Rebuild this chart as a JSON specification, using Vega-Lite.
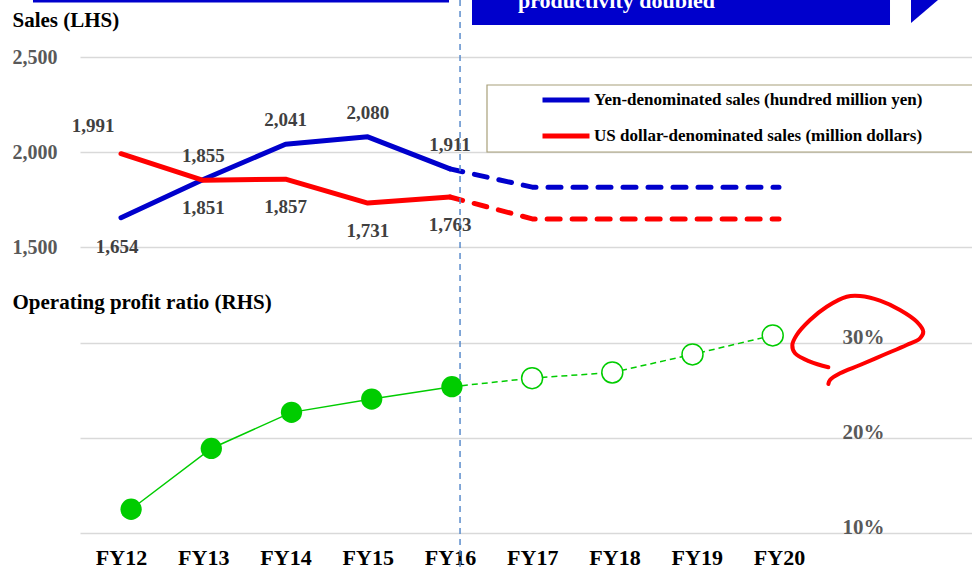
{
  "$schema": "https://vega.github.io/schema/vega-lite/v6.json",
  "width": 892,
  "height": 568,
  "autosize": {"type": "none"},
  "padding": {"left": 80, "top": 0, "right": 0, "bottom": 0},
  "background": "#ffffff",
  "config": {"view": {"stroke": null}, "font": "Liberation Serif"},
  "datasets": {
    "sales": [
      {"year": 12, "series": "Yen-denominated sales (hundred million yen)", "sales": 1654},
      {"year": 13, "series": "Yen-denominated sales (hundred million yen)", "sales": 1855},
      {"year": 14, "series": "Yen-denominated sales (hundred million yen)", "sales": 2041},
      {"year": 15, "series": "Yen-denominated sales (hundred million yen)", "sales": 2080},
      {"year": 16, "series": "Yen-denominated sales (hundred million yen)", "sales": 1911},
      {"year": 17, "series": "Yen-denominated sales (hundred million yen)", "sales": 1815},
      {"year": 18, "series": "Yen-denominated sales (hundred million yen)", "sales": 1815},
      {"year": 19, "series": "Yen-denominated sales (hundred million yen)", "sales": 1815},
      {"year": 20, "series": "Yen-denominated sales (hundred million yen)", "sales": 1815},
      {"year": 12, "series": "US dollar-denominated sales (million dollars)", "sales": 1991},
      {"year": 13, "series": "US dollar-denominated sales (million dollars)", "sales": 1851},
      {"year": 14, "series": "US dollar-denominated sales (million dollars)", "sales": 1857},
      {"year": 15, "series": "US dollar-denominated sales (million dollars)", "sales": 1731},
      {"year": 16, "series": "US dollar-denominated sales (million dollars)", "sales": 1763},
      {"year": 17, "series": "US dollar-denominated sales (million dollars)", "sales": 1648},
      {"year": 18, "series": "US dollar-denominated sales (million dollars)", "sales": 1648},
      {"year": 19, "series": "US dollar-denominated sales (million dollars)", "sales": 1648},
      {"year": 20, "series": "US dollar-denominated sales (million dollars)", "sales": 1648}
    ],
    "profit": [
      {"year": 12, "opm": 0.125},
      {"year": 13, "opm": 0.189},
      {"year": 14, "opm": 0.227},
      {"year": 15, "opm": 0.241},
      {"year": 16, "opm": 0.254},
      {"year": 17, "opm": 0.263},
      {"year": 18, "opm": 0.269},
      {"year": 19, "opm": 0.288},
      {"year": 20, "opm": 0.308}
    ],
    "boxes": [
      {"part": "top bar", "x0": 10.930, "x1": 15.988, "y0": 2800, "y1": 2786.8},
      {"part": "banner", "x0": 16.2675, "x1": 21.3496, "y0": 2800, "y1": 2668.4}
    ],
    "legendbox": [
      {"part": "legend box", "x0": 16.4498, "x1": 22.5046, "y0": 2352.6, "y1": 2000}
    ],
    "divider": [
      {"part": "actual / plan divider", "x": 16.122}
    ],
    "arrow": [
      {"x": 21.605, "top": 2800, "bottom": 2678.9},
      {"x": 21.933, "top": 2800, "bottom": 2800}
    ],
    "bannertext": [
      {"x": 16.827, "y": 2757.9, "text": "productivity doubled"}
    ],
    "loop": [
      {"i": 0, "x": 20.600, "y": 866.8},
      {"i": 1, "x": 20.377, "y": 896.3},
      {"i": 2, "x": 20.195, "y": 940.5},
      {"i": 3, "x": 20.162, "y": 984.2},
      {"i": 4, "x": 20.215, "y": 1036.8},
      {"i": 5, "x": 20.377, "y": 1115.8},
      {"i": 6, "x": 20.580, "y": 1185.8},
      {"i": 7, "x": 20.823, "y": 1238.4},
      {"i": 8, "x": 20.985, "y": 1242.1},
      {"i": 9, "x": 21.228, "y": 1217.4},
      {"i": 10, "x": 21.471, "y": 1168.4},
      {"i": 11, "x": 21.674, "y": 1106.8},
      {"i": 12, "x": 21.754, "y": 1054.2},
      {"i": 13, "x": 21.714, "y": 1019.5},
      {"i": 14, "x": 21.552, "y": 984.2},
      {"i": 15, "x": 21.268, "y": 931.6},
      {"i": 16, "x": 20.985, "y": 878.9},
      {"i": 17, "x": 20.742, "y": 835.3},
      {"i": 18, "x": 20.620, "y": 800},
      {"i": 19, "x": 20.600, "y": 778.9}
    ]
  },
  "layer": [
    {
      "layer": [
        {
          "data": {"name": "boxes"},
          "mark": {"type": "rect", "color": "#0000cc"},
          "encoding": {
            "x": {"field": "x0", "type": "quantitative", "scale": {"domain": [11.5015, 22.3465], "nice": false, "zero": false}, "axis": null},
            "x2": {"field": "x1"},
            "y": {"field": "y0", "type": "quantitative", "scale": {"domain": [-189.47, 2800], "nice": false, "zero": false}, "axis": null},
            "y2": {"field": "y1"}
          }
        },
        {
          "data": {"name": "legendbox"},
          "mark": {"type": "rect", "fill": "#ffffff", "stroke": "#a8a07a", "strokeWidth": 1.2},
          "encoding": {
            "x": {"field": "x0", "type": "quantitative", "scale": {"domain": [11.5015, 22.3465], "nice": false, "zero": false}, "axis": null},
            "x2": {"field": "x1"},
            "y": {"field": "y0", "type": "quantitative", "scale": {"domain": [-189.47, 2800], "nice": false, "zero": false}, "axis": null},
            "y2": {"field": "y1"}
          }
        },
        {
          "data": {"name": "arrow"},
          "mark": {"type": "area", "color": "#0000cc", "opacity": 1},
          "encoding": {
            "x": {"field": "x", "type": "quantitative", "scale": {"domain": [11.5015, 22.3465], "nice": false, "zero": false}, "axis": null},
            "y": {"field": "top", "type": "quantitative", "scale": {"domain": [-189.47, 2800], "nice": false, "zero": false}, "axis": null},
            "y2": {"field": "bottom"}
          }
        },
        {
          "data": {"name": "bannertext"},
          "mark": {"type": "text", "color": "#ffffff", "font": "Liberation Serif", "fontWeight": "bold", "fontSize": 22, "align": "left", "baseline": "alphabetic"},
          "encoding": {
            "x": {"field": "x", "type": "quantitative", "scale": {"domain": [11.5015, 22.3465], "nice": false, "zero": false}, "axis": null},
            "y": {"field": "y", "type": "quantitative", "scale": {"domain": [-189.47, 2800], "nice": false, "zero": false}, "axis": null},
            "text": {"field": "text"}
          }
        },
        {
          "data": {"name": "loop"},
          "mark": {"type": "line", "color": "#ff0000", "strokeWidth": 4, "strokeCap": "round", "strokeJoin": "round", "interpolate": "catmull-rom"},
          "encoding": {
            "x": {"field": "x", "type": "quantitative", "scale": {"domain": [11.5015, 22.3465], "nice": false, "zero": false}, "axis": null},
            "y": {"field": "y", "type": "quantitative", "scale": {"domain": [-189.47, 2800], "nice": false, "zero": false}, "axis": null},
            "order": {"field": "i", "type": "quantitative"}
          }
        }
      ]
    },
    {
      "data": {"name": "sales"},
      "layer": [
        {
          "transform": [{"filter": "datum.year <= 16"}],
          "mark": {"type": "line", "strokeWidth": 5, "strokeCap": "round", "strokeJoin": "round"},
          "encoding": {
            "x": {
              "field": "year", "type": "quantitative",
              "scale": {"domain": [11.5015, 22.3465], "nice": false, "zero": false},
              "axis": {"orient": "bottom", "title": null, "values": [12, 13, 14, 15, 16, 17, 18, 19, 20], "labelExpr": "'FY' + datum.value", "domain": false, "ticks": false, "grid": false, "labelAngle": 0, "labelPadding": 0, "offset": -4, "labelAlign": "center", "labelBaseline": "alphabetic", "labelFont": "Liberation Serif", "labelFontWeight": "bold", "labelFontSize": 22, "labelColor": "#000000", "labelOverlap": false, "labelFlush": false}
            },
            "y": {
              "field": "sales", "type": "quantitative",
              "scale": {"domain": [-189.47, 2800], "nice": false, "zero": false},
              "axis": {"orient": "left", "values": [1500, 2000, 2500], "format": ",.0f", "grid": true, "gridColor": "#d9d9d9", "gridWidth": 1.5, "domain": false, "ticks": false, "labelPadding": 23, "labelFont": "Liberation Serif", "labelFontWeight": "bold", "labelFontSize": 20, "labelColor": "#595959", "labelBaseline": "middle", "labelOverlap": false, "title": "Sales (LHS)", "titleAngle": 0, "titleX": -68, "titleY": 26, "titleAlign": "left", "titleBaseline": "alphabetic", "titleFont": "Liberation Serif", "titleFontSize": 21, "titleFontWeight": "bold", "titleColor": "#000000"}
            },
            "color": {
              "field": "series", "type": "nominal",
              "scale": {"domain": ["Yen-denominated sales (hundred million yen)", "US dollar-denominated sales (million dollars)"], "range": ["#0000cc", "#ff0000"]},
              "legend": {"orient": "none", "legendX": 460, "legendY": 74, "title": null, "direction": "vertical", "symbolType": "stroke", "symbolSize": 2209, "symbolStrokeWidth": 5, "labelFont": "Liberation Serif", "labelFontWeight": "bold", "labelFontSize": 17, "labelColor": "#000000", "labelOffset": 2, "padding": 0, "rowPadding": -11, "labelLimit": 500}
            }
          }
        },
        {
          "transform": [{"filter": "datum.year >= 16"}],
          "mark": {"type": "line", "strokeWidth": 5, "strokeCap": "round", "strokeJoin": "round", "strokeDash": [13, 12]},
          "encoding": {
            "x": {"field": "year", "type": "quantitative"},
            "y": {"field": "sales", "type": "quantitative"},
            "color": {"field": "series", "type": "nominal"}
          }
        },
        {
          "transform": [{"filter": "indexof(datum.series, 'Yen') == 0 && datum.year > 12 && datum.year <= 16"}],
          "mark": {"type": "text", "font": "Liberation Serif", "fontWeight": "bold", "fontSize": 19, "color": "#404040", "baseline": "middle", "dy": -24},
          "encoding": {
            "x": {"field": "year", "type": "quantitative"},
            "y": {"field": "sales", "type": "quantitative"},
            "text": {"field": "sales", "type": "quantitative", "format": ","}
          }
        },
        {
          "transform": [{"filter": "indexof(datum.series, 'Yen') == 0 && datum.year == 12"}],
          "mark": {"type": "text", "font": "Liberation Serif", "fontWeight": "bold", "fontSize": 19, "color": "#404040", "baseline": "middle", "dy": 29, "dx": -4},
          "encoding": {
            "x": {"field": "year", "type": "quantitative"},
            "y": {"field": "sales", "type": "quantitative"},
            "text": {"field": "sales", "type": "quantitative", "format": ","}
          }
        },
        {
          "transform": [{"filter": "indexof(datum.series, 'US') == 0 && datum.year > 12 && datum.year <= 16"}],
          "mark": {"type": "text", "font": "Liberation Serif", "fontWeight": "bold", "fontSize": 19, "color": "#404040", "baseline": "middle", "dy": 28},
          "encoding": {
            "x": {"field": "year", "type": "quantitative"},
            "y": {"field": "sales", "type": "quantitative"},
            "text": {"field": "sales", "type": "quantitative", "format": ","}
          }
        },
        {
          "transform": [{"filter": "indexof(datum.series, 'US') == 0 && datum.year == 12"}],
          "mark": {"type": "text", "font": "Liberation Serif", "fontWeight": "bold", "fontSize": 19, "color": "#404040", "baseline": "middle", "dy": -28, "dx": -28},
          "encoding": {
            "x": {"field": "year", "type": "quantitative"},
            "y": {"field": "sales", "type": "quantitative"},
            "text": {"field": "sales", "type": "quantitative", "format": ","}
          }
        }
      ]
    },
    {
      "layer": [
        {
          "data": {"name": "divider"},
          "mark": {"type": "rule", "color": "#5b8ccc", "strokeWidth": 1.5, "strokeDash": [6, 5]},
          "encoding": {
            "x": {"field": "x", "type": "quantitative", "scale": {"domain": [11.5015, 22.3465], "nice": false, "zero": false}, "axis": null}
          }
        }
      ]
    },
    {
      "data": {"name": "profit"},
      "layer": [
        {
          "transform": [{"filter": "datum.year <= 16"}],
          "mark": {"type": "line", "color": "#00cc00", "strokeWidth": 1.5},
          "encoding": {
            "x": {
              "field": "year", "type": "quantitative",
              "scale": {"domain": [11.3628, 22.485], "nice": false, "zero": false},
              "axis": null
            },
            "y": {
              "field": "opm", "type": "quantitative",
              "scale": {"domain": [0.06316, 0.66105], "nice": false, "zero": false},
              "axis": {"orient": "right", "values": [0.1, 0.2, 0.3], "format": ".0%", "grid": true, "gridColor": "#d9d9d9", "gridWidth": 1.5, "domain": false, "ticks": false, "offset": -130, "labelPadding": 0, "labelAlign": "left", "labelBaseline": "alphabetic", "labelFont": "Liberation Serif", "labelFontWeight": "bold", "labelFontSize": 21, "labelColor": "#595959", "labelOverlap": false, "title": "Operating profit ratio (RHS)", "titleAngle": 0, "titleX": -830, "titleY": 308, "titleAlign": "left", "titleBaseline": "alphabetic", "titleFont": "Liberation Serif", "titleFontSize": 21, "titleFontWeight": "bold", "titleColor": "#000000"}
            }
          }
        },
        {
          "transform": [{"filter": "datum.year >= 16"}],
          "mark": {"type": "line", "color": "#00cc00", "strokeWidth": 1.5, "strokeDash": [6, 4]},
          "encoding": {
            "x": {"field": "year", "type": "quantitative"},
            "y": {"field": "opm", "type": "quantitative"}
          }
        },
        {
          "transform": [{"filter": "datum.year <= 16"}],
          "mark": {"type": "circle", "color": "#00cc00", "size": 452, "opacity": 1},
          "encoding": {
            "x": {"field": "year", "type": "quantitative"},
            "y": {"field": "opm", "type": "quantitative"}
          }
        },
        {
          "transform": [{"filter": "datum.year >= 17"}],
          "mark": {"type": "circle", "fill": "#ffffff", "stroke": "#00cc00", "strokeWidth": 1.5, "size": 440, "opacity": 1, "fillOpacity": 1},
          "encoding": {
            "x": {"field": "year", "type": "quantitative"},
            "y": {"field": "opm", "type": "quantitative"}
          }
        }
      ]
    }
  ],
  "resolve": {
    "scale": {"x": "independent", "y": "independent"},
    "axis": {"x": "independent", "y": "independent"}
  }
}
